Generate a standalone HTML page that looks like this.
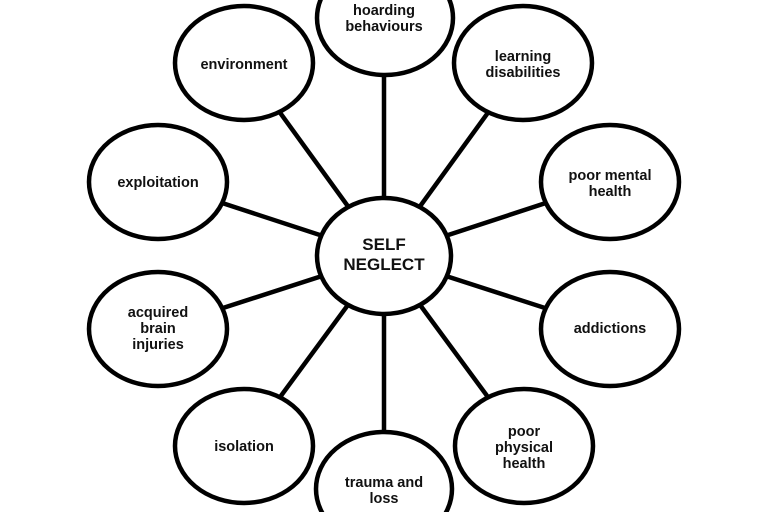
<!DOCTYPE html>
<html><head><style>html,body{margin:0;padding:0;background:#fff;width:768px;height:512px;overflow:hidden}svg{display:block;overflow:hidden}</style></head><body>
<svg width="768" height="512" viewBox="0 0 768 512" xmlns="http://www.w3.org/2000/svg">
<g stroke="#000" stroke-width="4.5" fill="none">
<line x1="384" y1="256" x2="384" y2="18"/>
<line x1="384" y1="256" x2="524" y2="63"/>
<line x1="384" y1="256" x2="610" y2="182"/>
<line x1="384" y1="256" x2="610" y2="329"/>
<line x1="384" y1="256" x2="524" y2="446"/>
<line x1="384" y1="256" x2="384" y2="489"/>
<line x1="384" y1="256" x2="244" y2="446"/>
<line x1="384" y1="256" x2="158" y2="329"/>
<line x1="384" y1="256" x2="158" y2="182"/>
<line x1="384" y1="256" x2="244" y2="63"/>
</g>
<g stroke="#000" stroke-width="4.5" fill="#fff">
<ellipse cx="384" cy="256" rx="67" ry="58"/>
<ellipse cx="385" cy="18" rx="68" ry="57"/>
<ellipse cx="523" cy="63" rx="69" ry="57"/>
<ellipse cx="610" cy="182" rx="69" ry="57"/>
<ellipse cx="610" cy="329" rx="69" ry="57"/>
<ellipse cx="524" cy="446" rx="69" ry="57"/>
<ellipse cx="384" cy="489" rx="68" ry="57"/>
<ellipse cx="244" cy="446" rx="69" ry="57"/>
<ellipse cx="158" cy="329" rx="69" ry="57"/>
<ellipse cx="158" cy="182" rx="69" ry="57"/>
<ellipse cx="244" cy="63" rx="69" ry="57"/>
</g>
<g font-family="Liberation Sans, sans-serif" font-weight="bold" font-size="14.5" text-anchor="middle" fill="#111">
<text x="384" y="250" font-size="17">SELF</text>
<text x="384" y="270" font-size="17">NEGLECT</text>
<text x="384" y="15">hoarding</text>
<text x="384" y="31">behaviours</text>
<text x="523" y="61">learning</text>
<text x="523" y="77">disabilities</text>
<text x="610" y="180">poor mental</text>
<text x="610" y="196">health</text>
<text x="610" y="333">addictions</text>
<text x="524" y="436">poor</text>
<text x="524" y="452">physical</text>
<text x="524" y="468">health</text>
<text x="384" y="487">trauma and</text>
<text x="384" y="503">loss</text>
<text x="244" y="451">isolation</text>
<text x="158" y="317">acquired</text>
<text x="158" y="333">brain</text>
<text x="158" y="349">injuries</text>
<text x="158" y="187">exploitation</text>
<text x="244" y="69">environment</text>
</g>
</svg>
</body></html>
